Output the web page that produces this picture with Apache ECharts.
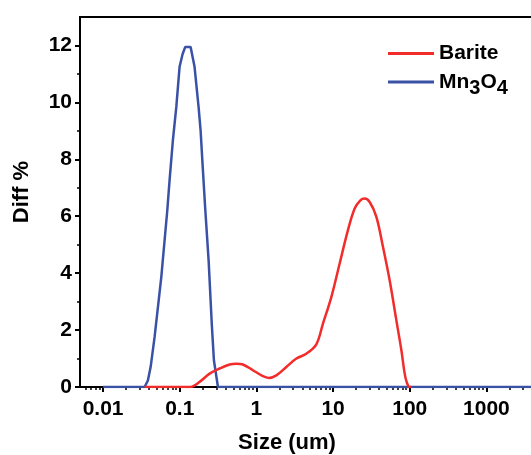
<!DOCTYPE html>
<html><head><meta charset="utf-8">
<script src="https://cdn.jsdelivr.net/npm/echarts@6/dist/echarts.min.js"></script>
<style>html,body{margin:0;padding:0;background:#fff}#c{width:531px;height:455px}</style>
</head><body><div id="c"></div>
<script>
// Data (size in um, differential %)
const bariteSize = [0.0348, 0.1346, 0.1816, 0.2453, 0.331, 0.447, 0.547, 0.667, 0.901, 1.217, 1.457, 1.82, 2.455, 3.32, 4.48, 6.05, 7.38, 9.49, 12.19, 15.63, 19.12, 22.7, 25.8, 30.0, 36.7, 44.8, 54.7, 66.9, 77.8, 85.9, 92.0, 99.8, 105];
const bariteDiff = [0, 0, 0.18, 0.47, 0.65, 0.79, 0.82, 0.79, 0.59, 0.38, 0.32, 0.41, 0.70, 1.0, 1.17, 1.50, 2.23, 3.16, 4.34, 5.51, 6.27, 6.56, 6.62, 6.50, 5.98, 4.92, 3.75, 2.34, 1.29, 0.47, 0.14, 0.0, 0];
const mnSize = [0.01, 0.0348, 0.0384, 0.0417, 0.047, 0.0575, 0.0688, 0.0737, 0.0814, 0.0902, 0.0995, 0.109, 0.118, 0.1386, 0.156, 0.176, 0.187, 0.2005, 0.2156, 0.238, 0.263, 0.279, 0.315, 5000];
const mnDiff = [0, 0, 0.23, 0.70, 1.76, 3.87, 6.21, 7.27, 8.67, 9.84, 11.25, 11.7, 11.95, 11.95, 11.25, 9.84, 9.02, 7.62, 6.21, 4.45, 2.11, 0.94, 0, 0];
const seriesNames = ['Barite', 'Mn3O4'];
const xTickLabels = [0.01, 0.1, 1, 10, 100, 1000];
const xMinorTicks = [0.006, 0.007, 0.008, 0.009, 0.02, 0.03, 0.04, 0.05, 0.06, 0.07, 0.08, 0.09, 0.2, 0.3, 0.4, 0.5, 0.6, 0.7, 0.8, 0.9, 2, 3, 4, 5, 6, 7, 8, 9, 20, 30, 40, 50, 60, 70, 80, 90, 200, 300, 400, 500, 600, 700, 800, 900, 2000, 3000, 4000, 5000];
const yTickLabels = [0, 2, 4, 6, 8, 10, 12];
const yMinorTicks = [1, 3, 5, 7, 9, 11];
const xTitle = 'Size (um)';
const yTitle = 'Diff %';

const FONT = '"Liberation Sans", Arial, sans-serif';
const zip = (a, b) => a.map((v, i) => [v, b[i]]);
const XMIN = 0.005, XMAX = 5000;

const chart = echarts.init(document.getElementById('c'), null, {renderer: 'canvas'});
const baseX = {type: 'log', logBase: 10, min: XMIN, max: XMAX, position: 'bottom', splitLine: {show: false}, minorSplitLine: {show: false}};
const baseY = {type: 'value', min: 0, max: 13, position: 'left', splitLine: {show: false}};
chart.setOption({
  animation: false,
  backgroundColor: '#fff',
  grid: {left: 80, top: 17, width: 460, bottom: 68, outerBoundsMode: 'none', containLabel: false,
    show: true, borderColor: '#000', borderWidth: 2, backgroundColor: 'transparent'},
  xAxis: [
    Object.assign({}, baseX, {
      axisLine: {show: true, lineStyle: {color: '#000', width: 2}},
      axisTick: {show: true, length: 5, inside: false, lineStyle: {color: '#000', width: 2}, customValues: xTickLabels},
      axisLabel: {show: true, customValues: xTickLabels, margin: 12, color: '#000', fontFamily: FONT, fontWeight: 'bold', fontSize: 21,
        formatter: v => String(v)}
    }),
    Object.assign({}, baseX, {
      axisLine: {show: false},
      axisTick: {show: true, length: 3, lineStyle: {color: '#000', width: 1.5}, customValues: xMinorTicks},
      axisLabel: {show: false}
    })
  ],
  yAxis: [
    Object.assign({}, baseY, {
      axisLine: {show: true, lineStyle: {color: '#000', width: 2}},
      axisTick: {show: true, length: 5, lineStyle: {color: '#000', width: 2}, customValues: yTickLabels},
      axisLabel: {show: true, customValues: yTickLabels, margin: 8, color: '#000', fontFamily: FONT, fontWeight: 'bold', fontSize: 21}
    }),
    Object.assign({}, baseY, {
      axisLine: {show: false},
      axisTick: {show: true, length: 3, lineStyle: {color: '#000', width: 1.5}, customValues: yMinorTicks},
      axisLabel: {show: false}
    })
  ],
  legend: {
    orient: 'vertical', left: 383, top: 38, itemWidth: 46, itemHeight: 3, itemGap: 2, icon: 'rect',
    data: seriesNames,
    textStyle: {color: '#000', fontFamily: FONT, fontWeight: 'bold', fontSize: 21, lineHeight: 20,
      rich: {
        n: {color: '#000', fontFamily: FONT, fontWeight: 'bold', fontSize: 21, lineHeight: 20},
        s: {color: '#000', fontFamily: FONT, fontWeight: 'bold', fontSize: 20, lineHeight: 20, padding: [12, 0, 0, 0]}
      }
    },
    formatter: name => name === 'Mn3O4' ? '{n|Mn}{s|3}{n|O}{s|4}' : name
  },
  graphic: [
    {type: 'text', x: 287, y: 443, style: {text: xTitle, textAlign: 'center', textVerticalAlign: 'middle', font: 'bold 22px ' + FONT, fill: '#000'}},
    {type: 'text', x: 22, y: 192, rotation: Math.PI / 2, style: {text: yTitle, textAlign: 'center', textVerticalAlign: 'middle', font: 'bold 22px ' + FONT, fill: '#000'}}
  ],
  series: [
    {name: 'Mn3O4', type: 'line', xAxisIndex: 0, yAxisIndex: 0, data: zip(mnSize, mnDiff), symbol: 'none', smooth: false,
      lineStyle: {color: '#3a52a6', width: 2.5}, itemStyle: {color: '#3a52a6'}},
    {name: 'Barite', type: 'line', xAxisIndex: 0, yAxisIndex: 0, data: zip(bariteSize, bariteDiff), symbol: 'none', smooth: 0.35,
      lineStyle: {color: '#f22b2b', width: 2.5}, itemStyle: {color: '#f22b2b'}}
  ]
});
</script></body></html>
